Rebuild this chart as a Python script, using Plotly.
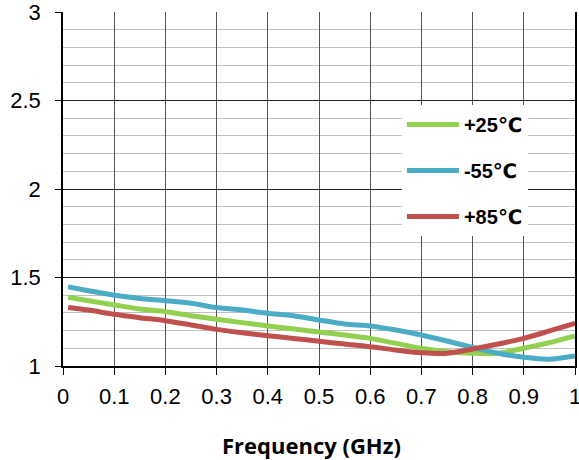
import plotly.graph_objects as go

# Frequency sweep (GHz)
freq_ghz = [0.01, 0.05, 0.1, 0.15, 0.2, 0.25, 0.3, 0.35, 0.4, 0.45, 0.5,
            0.55, 0.6, 0.65, 0.7, 0.75, 0.8, 0.85, 0.9, 0.95, 1.0]

# VSWR per temperature
vswr_p25 = [1.388, 1.369, 1.345, 1.322, 1.307, 1.284, 1.264, 1.245, 1.226, 1.209, 1.192,
            1.175, 1.156, 1.128, 1.100, 1.081, 1.072, 1.072, 1.100, 1.132, 1.170]
vswr_m55 = [1.447, 1.425, 1.400, 1.382, 1.369, 1.354, 1.330, 1.316, 1.298, 1.284, 1.260,
            1.237, 1.226, 1.203, 1.175, 1.141, 1.105, 1.072, 1.049, 1.038, 1.056]
vswr_p85 = [1.331, 1.316, 1.292, 1.273, 1.256, 1.232, 1.207, 1.188, 1.171, 1.156, 1.140,
            1.124, 1.109, 1.090, 1.075, 1.072, 1.096, 1.124, 1.156, 1.198, 1.241]

temps = ["+25", "-55", "+85"]
series_colors = ["#92D050", "#4BACC6", "#C0504D"]

x_ticks = [0, 0.1, 0.2, 0.3, 0.4, 0.5, 0.6, 0.7, 0.8, 0.9, 1]
y_ticks = [1, 1.5, 2, 2.5, 3]

# degree-Celsius sign in a face with a wide glyph
CELSIUS = "<span style='font-family:DejaVu Sans'>℃</span>"

fig = go.Figure()
for i, (t, color, vals) in enumerate(zip(temps, series_colors,
                                        [vswr_p25, vswr_m55, vswr_p85])):
    fig.add_trace(go.Scatter(
        x=freq_ghz, y=vals, name=t + CELSIUS, mode="lines",
        line=dict(color=color, width=5, shape="spline", smoothing=0.8),
        legendgroup=f"g{i}",
    ))

fig.update_layout(
    width=579, height=460,
    margin=dict(l=63, r=4, t=12, b=94),
    paper_bgcolor="white", plot_bgcolor="white",
    font=dict(family="Arial", size=22, color="black"),
    showlegend=True,
    legend=dict(
        x=0.662, y=0.737, xanchor="left", yanchor="top",
        bgcolor="white", borderwidth=0,
        font=dict(family="Arial", size=20, color="black", weight="bold"),
        itemwidth=52, tracegroupgap=17,
    ),
    annotations=[dict(
        text="Frequency (GHz)", xref="paper", yref="paper",
        x=0.486, y=-0.223, xanchor="center", yanchor="middle", showarrow=False,
        font=dict(family="Open Sans", size=22, weight="bold", color="black"),
    )],
)

fig.update_xaxes(
    range=[0, 1], tickvals=x_ticks, ticktext=[f"{v:g}" for v in x_ticks],
    tickfont=dict(family="Arial", size=22),
    ticklabeloverflow="allow", automargin=False,
    showgrid=True, gridcolor="#555555", gridwidth=1,
    showline=True, linecolor="black", linewidth=1.5,
    ticks="outside", ticklen=7, tickcolor="black",
    zeroline=False, ticklabelstandoff=3,
)
fig.update_yaxes(
    range=[1, 3], tickvals=y_ticks, ticktext=[f"{v:g}" for v in y_ticks],
    tickfont=dict(family="Arial", size=22),
    ticklabeloverflow="allow", automargin=False,
    showgrid=True, gridcolor="#222222", gridwidth=1,
    minor=dict(dtick=0.1, showgrid=True, gridcolor="#C0C0C0", gridwidth=1, ticks=""),
    showline=True, linecolor="black", linewidth=1.5, mirror=True,
    ticks="outside", ticklen=6, tickcolor="black",
    zeroline=False, ticklabelstandoff=10,
)

fig.write_html("out.html")
